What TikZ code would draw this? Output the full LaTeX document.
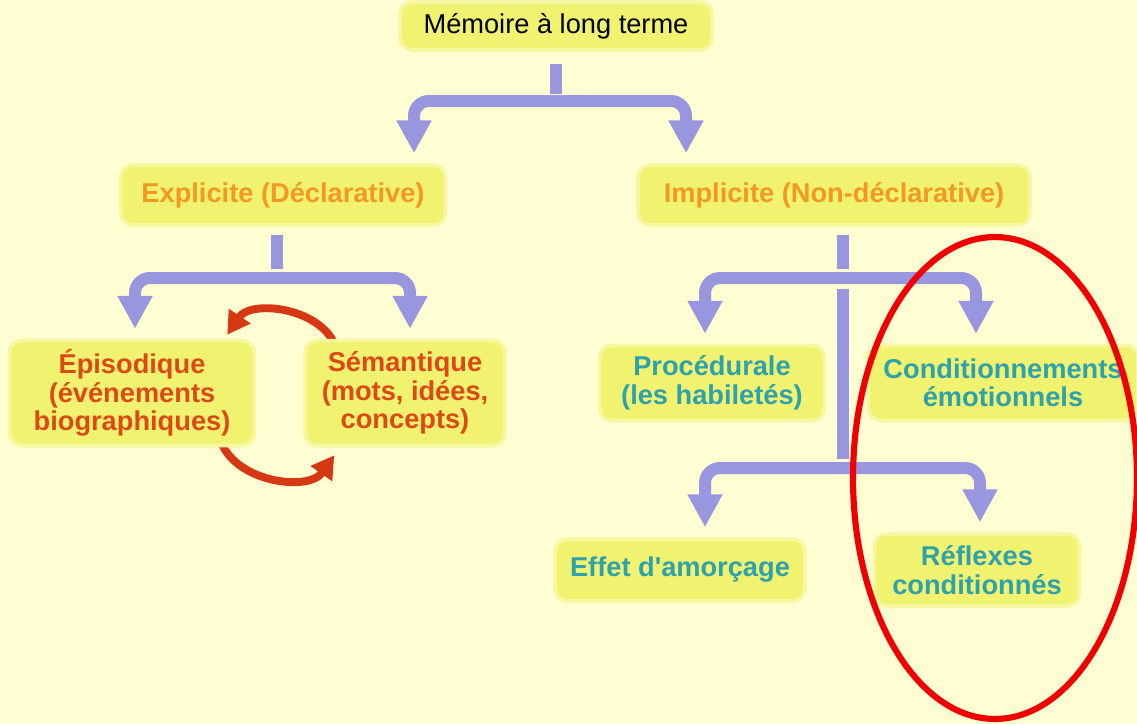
\documentclass[tikz,border=0pt]{standalone}
\usepackage{fontspec}
\setmainfont{Liberation Sans}
\usetikzlibrary{arrows.meta,calc}
\definecolor{bgyellow}{RGB}{255,253,210}
\definecolor{boxyellow}{RGB}{240,242,112}
\definecolor{boxedge}{RGB}{246,248,160}
\definecolor{forkblue}{RGB}{152,150,222}
\definecolor{textorange}{RGB}{244,152,34}
\definecolor{textred}{RGB}{222,72,22}
\definecolor{textteal}{RGB}{45,162,172}
\definecolor{arcred}{RGB}{214,56,20}
\definecolor{ringred}{RGB}{240,0,0}

\begin{document}
\begin{tikzpicture}[x=0.02cm,y=0.02cm]
		\tikzstyle{every node}+=[inner sep=0pt]
		\tikzstyle{box}=[fill=boxyellow, draw=boxedge, line width=2pt, rounded corners=0.25cm, align=center, font=\bfseries\fontsize{15.5}{16.2}\selectfont]
		\tikzstyle{stem}=[draw=forkblue, line width=0.24cm]
		\tikzstyle{fork}=[draw=forkblue, line width=0.24cm, rounded corners=0.3cm, shorten >=0.2cm, -{Triangle[length=0.66cm,width=0.66cm]}]
		\tikzstyle{swap}=[draw=arcred, line width=4.5pt, -{Triangle[length=0.45cm,width=0.5cm]}]
		\tikzstyle{ring}=[draw=ringred, line width=3.5pt]
		\fill [bgyellow] (0,0) rectangle (1137,-724);
		\useasboundingbox (0,0) rectangle (1137,-724);
		\coordinate (f0) at (556,-101);
		\coordinate (a1) at (414,-101);
		\coordinate (a2) at (686,-101);
		\coordinate (f1) at (277,-278);
		\coordinate (b1) at (135,-278);
		\coordinate (b2) at (410,-278);
		\coordinate (f2) at (843,-278);
		\coordinate (c1) at (705,-278);
		\coordinate (c2) at (976,-278);
		\coordinate (f3) at (843,-468);
		\coordinate (d1) at (705,-468);
		\coordinate (d2) at (980,-468);
		\path (132,-393) node [box, minimum width=4.9cm, minimum height=2.1cm] (epi) {};
		\path (405,-393) node [box, minimum width=4.0cm, minimum height=2.1cm] (sem) {};
		\draw [swap] ($(sem.north west)+(33,-10)$) to[out=107,in=56] ($(epi.north east)+(-29,4)$);
		\draw [swap] ($(epi.south east)+(-36,8)$) to[out=-73,in=-125] ($(sem.south west)+(31,-8)$);
		\draw (556,-26) node [box, minimum width=6.24cm, minimum height=0.96cm, font=\mdseries\fontsize{15.5}{16}\selectfont] (mlt) {Mémoire à long terme};
		\draw (283,-195) node [box, minimum width=6.5cm, minimum height=1.2cm, text=textorange] (expl) {Explicite (Déclarative)};
		\draw (834,-195) node [box, minimum width=7.84cm, minimum height=1.2cm, text=textorange] (impl) {Implicite (Non-déclarative)};
		\draw (132,-393) node [box, minimum width=4.9cm, minimum height=2.1cm, text=textred] (epi) {Épisodique\\(événements\\biographiques)};
		\draw (405,-393) node [box, minimum width=4.0cm, minimum height=2.1cm, text=textred] (sem) {Sémantique\\(mots, idées,\\concepts)};
		\draw (712,-383) node [box, minimum width=4.5cm, minimum height=1.5cm, text=textteal] (proc) {Procédurale\\(les habiletés)};
		\draw (1003,-383) node [box, minimum width=5.4cm, minimum height=1.5cm, text=textteal] (cond) {Conditionnements\\émotionnels};
		\draw (680,-570) node [box, minimum width=5.0cm, minimum height=1.24cm, text=textteal] (effet) {Effet d\textquotesingle amorçage};
		\draw (977,-570) node [box, minimum width=4.1cm, minimum height=1.44cm, text=textteal] (refl) {Réflexes\\conditionnés};
		\draw [stem] (mlt.south) ++(0,-12) -- ++(0,-30);
		\draw [fork] (f0) -| (a1 |- expl.north);
		\draw [fork] (f0) -| (a2 |- impl.north);
		\draw [stem] (f1 |- expl.south) ++(0,-8) -- ++(0,-34);
		\draw [fork] (f1) -| (b1 |- epi.north);
		\draw [fork] (f1) -| (b2 |- sem.north);
		\draw [stem] (f2 |- impl.south) ++(0,-8) -- ++(0,-34);
		\draw [fork] (f2) -| (c1 |- proc.north);
		\draw [fork] (f2) -| (c2 |- cond.north);
		\draw [stem] (f2) ++(0,-11) -- ++(0,-170);
		\draw [fork] (f3) -| (d1 |- effet.north);
		\draw [fork] (f3) -| (d2 |- refl.north);
		\draw [ring] (995,-478) ellipse [x radius=2.84cm, y radius=4.82cm];
\end{tikzpicture}
\end{document}
